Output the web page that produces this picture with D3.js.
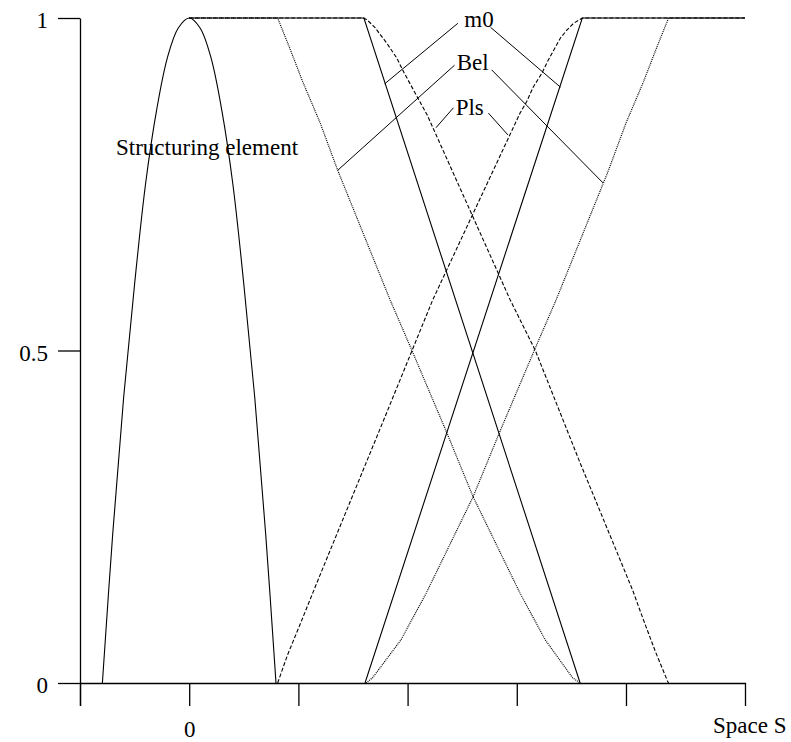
<!DOCTYPE html>
<html>
<head>
<meta charset="utf-8">
<script src="https://cdn.jsdelivr.net/npm/d3@7"></script>
<style>
body { margin: 0; background: #fff; }
</style>
</head>
<body>
<div class="graph"></div>
<script>
//Ticks of the two axes
const xTicks = [-1, 0, 1, 2, 3, 4];
const xLabels = {"0": "0"};
const yTicks = [0, 0.5, 1];

//Structuring element, [s, value]
const structuring = [[-0.795, 0], [-0.7, 0.225], [-0.6, 0.43], [-0.5, 0.6], [-0.4, 0.75], [-0.3, 0.86],
    [-0.2, 0.94], [-0.1, 0.985], [0, 1], [0.1, 0.985], [0.2, 0.94], [0.3, 0.86], [0.4, 0.75],
    [0.5, 0.6], [0.6, 0.43], [0.7, 0.225], [0.795, 0]];

//m0 of the two sets
const m0Left = [[0, 1], [1.6, 1], [3.58, 0]];
const m0Right = [[1.61, 0], [3.6, 1], [5.09, 1]];

//Bel of the two sets
const belLeft = [[0, 1], [0.81, 1], [0.92, 0.955], [1.04, 0.904], [1.2, 0.842], [1.36, 0.771], [1.84, 0.576],
    [2.04, 0.5], [2.36, 0.376], [2.6, 0.28], [3.03, 0.135], [3.26, 0.065], [3.51, 0.008], [3.58, 0]];
const belRight = [[1.62, 0], [1.68, 0.008], [1.94, 0.065], [2.17, 0.135], [2.6, 0.28], [2.84, 0.376],
    [3.16, 0.5], [3.36, 0.576], [3.84, 0.771], [4.0, 0.842], [4.16, 0.904], [4.28, 0.955], [4.39, 1], [5.09, 1]];

//Pls of the two sets
const plsLeft = [[0, 1], [1.6, 1], [1.63, 0.997], [1.7, 0.986], [1.81, 0.962], [1.9, 0.94], [1.97, 0.917],
    [2.07, 0.887], [2.18, 0.854], [2.94, 0.576], [3.17, 0.5], [3.58, 0.331], [4.06, 0.14], [4.16, 0.095],
    [4.27, 0.047], [4.38, 0.003], [4.39, 0]];
const plsRight = [[0.81, 0], [0.9, 0.042], [1.02, 0.09], [1.18, 0.155], [1.75, 0.383], [2.23, 0.576],
    [3.03, 0.857], [3.09, 0.874], [3.15, 0.896], [3.23, 0.917], [3.28, 0.934], [3.33, 0.949], [3.4, 0.97],
    [3.46, 0.982], [3.52, 0.992], [3.6, 1], [5.09, 1]];

//Labels and their leader lines, in chart units
const labels = [
    {text: "m0", at: [2.52, 0.986], leaders: [[[2.46, 0.992], [1.79, 0.901]], [[2.76, 0.986], [3.4, 0.896]]]},
    {text: "Bel", at: [2.45, 0.922], leaders: [[[2.43, 0.929], [1.36, 0.771]], [[2.77, 0.922], [3.79, 0.752]]]},
    {text: "Pls", at: [2.44, 0.854], leaders: [[[2.42, 0.865], [2.26, 0.835]], [[2.74, 0.857], [2.92, 0.824]]]},
    {text: "Structuring element", at: [-0.67, 0.794], leaders: []}
];

const series = [
    {data: structuring, style: "solid", smooth: true},
    {data: m0Left, style: "solid"},
    {data: m0Right, style: "solid"},
    {data: belLeft, style: "dotted"},
    {data: belRight, style: "dotted"},
    {data: plsLeft, style: "dashed"},
    {data: plsRight, style: "dashed"}
];

const dashes = {solid: null, dotted: "1,1", dashed: "4,2"};
const FONT = "'Liberation Serif', 'Times New Roman', serif";

let WIDTH = 791,
    HEIGHT = 742;

let svg = d3
    .select(".graph")
    .append("svg")
    .attr("width", WIDTH)
    .attr("height", HEIGHT)
    .style("font-family", FONT);

let xScale = d3.scaleLinear().domain([-1, 5.09]).range([80, 745]);
let yScale = d3.scaleLinear().domain([0, 1]).range([683, 18]);

//Creating the curves
let line = d3.line().x(d => xScale(d[0])).y(d => yScale(d[1]));
let smoothLine = d3.line().x(d => xScale(d[0])).y(d => yScale(d[1])).curve(d3.curveCatmullRom);

svg.append("g")
    .selectAll("path")
    .data(series)
    .enter()
    .append("path")
    .attr("d", d => d.smooth ? smoothLine(d.data) : line(d.data))
    .attr("fill", "none")
    .attr("stroke", "#000")
    .attr("stroke-width", d => d.style == "dotted" ? 1.2 : 1.1)
    .attr("stroke-dasharray", d => dashes[d.style]);

//Creating the axes
svg.append("g")
    .attr("transform", `translate(0, ${yScale(0)})`)
    .call(d3.axisBottom(xScale)
        .tickValues(xTicks)
        .tickSizeInner(23)
        .tickSizeOuter(23)
        .tickPadding(15)
        .tickFormat(d => xLabels[d] || ""))
    .call(g => {
        g.selectAll("path, line").attr("stroke", "#000").attr("stroke-width", 1.3);
        g.selectAll("text").attr("font-size", 23).attr("font-family", FONT).attr("fill", "#000");
        g.append("text")
         .text("Space S")
         .attr("x", 713)
         .attr("y", 50)
         .attr("fill", "#000")
         .attr("font-size", 23)
         .attr("font-family", FONT)
         .attr("text-anchor", "start");
    });

svg.append("g")
    .attr("transform", `translate(${xScale(-1)}, 0)`)
    .call(d3.axisLeft(yScale)
        .tickValues(yTicks)
        .tickSizeInner(22)
        .tickSizeOuter(0)
        .tickPadding(10)
        .tickFormat(d => d))
    .call(g => {
        g.selectAll("path, line").attr("stroke", "#000").attr("stroke-width", 1.3);
        g.selectAll("text").attr("font-size", 23).attr("font-family", FONT).attr("fill", "#000").attr("dy", "0.42em");
    });

//Labels with leader lines
let labelGroup = svg.append("g");

labelGroup.selectAll("text")
    .data(labels)
    .enter()
    .append("text")
    .attr("x", d => xScale(d.at[0]))
    .attr("y", d => yScale(d.at[1]))
    .attr("font-size", 23)
    .attr("fill", "#000")
    .text(d => d.text);

labelGroup.selectAll("line")
    .data(labels.flatMap(d => d.leaders))
    .enter()
    .append("line")
    .attr("x1", d => xScale(d[0][0]))
    .attr("y1", d => yScale(d[0][1]))
    .attr("x2", d => xScale(d[1][0]))
    .attr("y2", d => yScale(d[1][1]))
    .attr("stroke", "#000")
    .attr("stroke-width", 1);
</script>
</body>
</html>
